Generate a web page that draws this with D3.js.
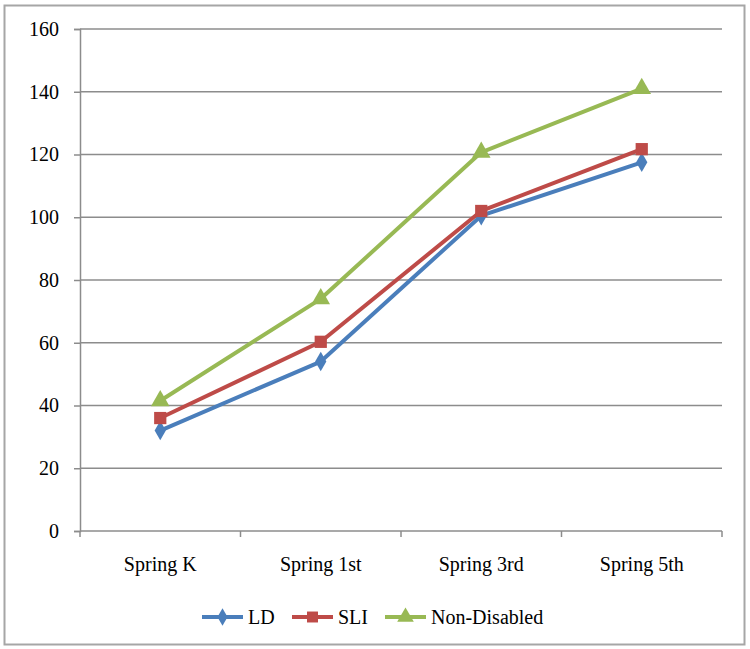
<!DOCTYPE html>
<html><head><meta charset="utf-8">
<script src="https://cdn.jsdelivr.net/npm/d3@7"></script>
<style>body{margin:0;background:#fff}svg{display:block}text{font-family:"Liberation Serif","DejaVu Serif",serif;fill:#000}</style>
</head><body>
<svg id="c" width="750" height="649"></svg>
<script>
const categories = ["Spring K","Spring 1st","Spring 3rd","Spring 5th"];
const ld = [32, 54, 100.5, 117.5];
const sli = [36, 60.3, 102, 121.7];
const nonDisabled = [41.5, 74, 120.7, 141];
const yTicks = [0,20,40,60,80,100,120,140,160];
const seriesNames = ["LD","SLI","Non-Disabled"];
const colors = ["#4A7EBB","#BE4B48","#98B954"];

const svg = d3.select("#c");
svg.append("rect").attr("x",4.5).attr("y",5.5).attr("width",740).attr("height",639)
  .attr("fill","#fff").attr("stroke","#A6A6A6").attr("stroke-width",2);

const L=80,R=722,T=29,B=531;
const x = d3.scaleBand().domain(categories).range([L,R]);
const y = d3.scaleLinear().domain([0,160]).range([B,T]);

// gridlines
svg.append("g").selectAll("line").data(yTicks.slice(1)).join("line")
  .attr("x1",L).attr("x2",R).attr("y1",d=>y(d)).attr("y2",d=>y(d))
  .attr("stroke","#8C8C8C").attr("stroke-width",1.5);

const yAxis = svg.append("g").attr("transform",`translate(${L},0)`)
  .call(d3.axisLeft(y).tickValues(yTicks).tickSize(6).tickPadding(15));
yAxis.select(".domain").attr("stroke","#8C8C8C").attr("stroke-width",1.5);
yAxis.selectAll(".tick line").attr("stroke","#8C8C8C").attr("stroke-width",1.5);
yAxis.selectAll("text").style("font-size","20px").attr("font-family",null);

const xAxis = svg.append("g").attr("transform",`translate(0,${B})`)
  .call(d3.axisBottom(x).tickSize(0).tickPadding(26));
xAxis.select(".domain").remove();
xAxis.selectAll("text").style("font-size","20px").attr("font-family",null);
svg.append("line").attr("x1",L).attr("x2",R).attr("y1",B).attr("y2",B).attr("stroke","#8C8C8C").attr("stroke-width",1.5);
const bounds = [L].concat(categories.map(c=>x(c)+x.bandwidth()));
svg.append("g").selectAll("line").data(bounds).join("line")
  .attr("x1",d=>d).attr("x2",d=>d).attr("y1",B).attr("y2",B+6).attr("stroke","#8C8C8C").attr("stroke-width",1.5);

const data = [ld, sli, nonDisabled];
const line = d3.line().x((d,i)=>x(categories[i])+x.bandwidth()/2).y(d=>y(d));
const symbols = [d3.symbolDiamond, d3.symbolSquare, d3.symbolTriangle];
const sizes = [110, 150, 150];

data.forEach((s,k)=>{
  svg.append("path").datum(s).attr("d",line).attr("fill","none")
    .attr("stroke",colors[k]).attr("stroke-width",4).attr("stroke-linejoin","round");
});
data.forEach((s,k)=>{
  svg.append("g").selectAll("path").data(s).join("path")
    .attr("transform",(d,i)=>`translate(${x(categories[i])+x.bandwidth()/2},${y(d)})`)
    .attr("d",d3.symbol().type(symbols[k]).size(sizes[k]))
    .attr("fill",colors[k]);
});

// legend
const legX = [202, 292, 385];
const legY = 617;
seriesNames.forEach((n,k)=>{
  const g = svg.append("g").attr("transform",`translate(${legX[k]},${legY})`);
  g.append("line").attr("x1",0).attr("x2",41).attr("stroke",colors[k]).attr("stroke-width",4);
  g.append("path").attr("transform","translate(20.5,0)").attr("d",d3.symbol().type(symbols[k]).size(sizes[k]*0.8)).attr("fill",colors[k]);
  g.append("text").attr("x",46).attr("y",7).style("font-size","20px").text(n);
});
</script>
</body></html>
